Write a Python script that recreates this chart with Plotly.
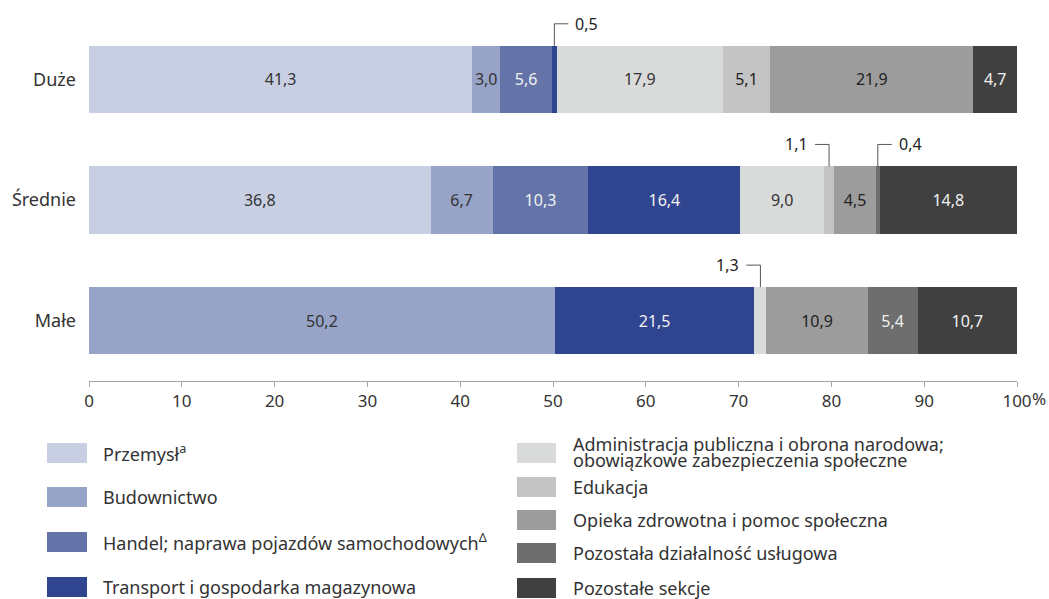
import plotly.graph_objects as go

# ---------------- data ----------------
categories = ["Duże", "Średnie", "Małe"]

series_names = [
    "Przemysł",
    "Budownictwo",
    "Handel; naprawa pojazdów samochodowych",
    "Transport i gospodarka magazynowa",
    "Administracja publiczna i obrona narodowa; obowiązkowe zabezpieczenia społeczne",
    "Edukacja",
    "Opieka zdrowotna i pomoc społeczna",
    "Pozostała działalność usługowa",
    "Pozostałe sekcje",
]
legend_labels = [
    "Przemysł<sup>a</sup>",
    "Budownictwo",
    "Handel; naprawa pojazdów samochodowych<sup>Δ</sup>",
    "Transport i gospodarka magazynowa",
    "Administracja publiczna i obrona narodowa;<br>obowiązkowe zabezpieczenia społeczne",
    "Edukacja",
    "Opieka zdrowotna i pomoc społeczna",
    "Pozostała działalność usługowa",
    "Pozostałe sekcje",
]

przemysl = [41.3, 36.8, 0.0]
budownictwo = [3.0, 6.7, 50.2]
handel = [5.6, 10.3, 0.0]
transport = [0.5, 16.4, 21.5]
administracja = [17.9, 9.0, 1.3]
edukacja = [5.1, 1.1, 0.0]
opieka = [21.9, 4.5, 10.9]
pozostala_dzialalnosc = [0.0, 0.4, 5.4]
pozostale_sekcje = [4.7, 14.8, 10.7]

values = [przemysl, budownictwo, handel, transport, administracja,
          edukacja, opieka, pozostala_dzialalnosc, pozostale_sekcje]

x_tickvals = [0, 10, 20, 30, 40, 50, 60, 70, 80, 90, 100]
x_ticktext = ["0", "10", "20", "30", "40", "50", "60", "70", "80", "90", "100"]

# small segments labelled with callouts: (category index, series index, side)
callouts = [(0, 3, "right"), (1, 5, "left"), (1, 7, "right"), (2, 4, "left")]

# ---------------- styles ----------------
colors = ["#c9cfe2", "#97a4c8", "#6474a8", "#2f4590", "#d9dada",
          "#c4c4c4", "#9c9c9c", "#6e6e6e", "#404040"]
text_colors = ["#333333", "#333333", "#f2f2f2", "#f2f2f2", "#333333",
               "#222222", "#222222", "#f2f2f2", "#f2f2f2"]
FONT = "Noto Sans, Open Sans, sans-serif"
TXT = "#333333"

W, H = 1049, 599
ML, MR, MT, MB = 89, 32, 19, 218
PW, PH = W - ML - MR, H - MT - MB
BARGAP = 0.444
PX_PER_X = PW / 100.0
PX_PER_CAT = PH / 3.0


def fmt(v):
    return f"{v:.1f}".replace(".", ",")


def px_x(xp):
    return (xp - ML) / PW


def px_y(yp):
    return (H - MB - yp) / PH


fig = go.Figure()
callout_set = {(c, s) for c, s, _ in callouts}
for s, (name, vals) in enumerate(zip(series_names, values)):
    texts = []
    for c, v in enumerate(vals):
        if v <= 0 or (c, s) in callout_set:
            texts.append("")
        else:
            texts.append(fmt(v))
    fig.add_trace(go.Bar(
        y=categories, x=vals, name=name, orientation="h",
        marker=dict(color=colors[s], line=dict(width=0)),
        text=texts, textposition="inside", insidetextanchor="middle",
        textangle=0,
        textfont=dict(color=text_colors[s], size=16, family=FONT),
        showlegend=False,
        hovertemplate="%{y}: %{x}<extra>" + name + "</extra>",
    ))

shapes = []
annotations = []

# callouts
half = (1 - BARGAP) / 2
rise = 22 / PX_PER_CAT
hlen = 14 / PX_PER_X
for c, s, side in callouts:
    start = sum(values[k][c] for k in range(s))
    xc = start + values[s][c] / 2
    ytop = c - half - rise
    shapes.append(dict(type="line", xref="x", yref="y", x0=xc, x1=xc,
                       y0=c - half, y1=ytop, line=dict(color="#555555", width=1)))
    x2 = xc + hlen if side == "right" else xc - hlen
    shapes.append(dict(type="line", xref="x", yref="y", x0=xc, x1=x2,
                       y0=ytop, y1=ytop, line=dict(color="#555555", width=1)))
    annotations.append(dict(
        x=x2, y=ytop, xref="x", yref="y", text=fmt(values[s][c]),
        showarrow=False, xanchor="left" if side == "right" else "right",
        yanchor="middle", xshift=5 if side == "right" else -5,
        font=dict(size=16, color="#222222", family=FONT)))

# percent sign after the 100 tick
annotations.append(dict(x=100, y=0, xref="x", yref="paper", text="%",
                        showarrow=False, xanchor="left", yanchor="middle",
                        xshift=13, yshift=-17,
                        font=dict(size=17, color=TXT, family=FONT)))

# custom two-column legend
left_rows = [453, 497, 542, 587]
right_rows = [453, 487, 520, 553, 588]
entries = []
for i, yc in enumerate(left_rows):
    entries.append((i, 47, 87, 101, yc))
for j, yc in enumerate(right_rows):
    entries.append((4 + j, 517, 556, 571, yc))
for s, x0p, x1p, xt, yc in entries:
    shapes.append(dict(type="rect", xref="paper", yref="paper",
                       x0=px_x(x0p), x1=px_x(x1p),
                       y0=px_y(yc + 10), y1=px_y(yc - 10),
                       fillcolor=colors[s], line=dict(width=0)))
    lines = legend_labels[s].split("<br>")
    offsets = [0] if len(lines) == 1 else [-9, 7]
    for ln, off in zip(lines, offsets):
        annotations.append(dict(
            x=px_x(xt), y=px_y(yc + off), xref="paper", yref="paper",
            text=ln, showarrow=False, xanchor="left", yanchor="middle",
            font=dict(size=18, color=TXT, family=FONT)))

fig.update_layout(
    barmode="stack",
    bargap=BARGAP,
    width=W, height=H,
    margin=dict(l=ML, r=MR, t=MT, b=MB, pad=0, autoexpand=False),
    paper_bgcolor="white",
    plot_bgcolor="white",
    font=dict(family=FONT, color=TXT),
    uniformtext=dict(minsize=16, mode="show"),
    shapes=shapes,
    annotations=annotations,
    xaxis=dict(range=[0, 100], tickvals=x_tickvals, ticktext=x_ticktext,
               showgrid=False, zeroline=False, showline=True,
               linecolor="#a6a6a6", linewidth=1, ticks="outside",
               ticklen=5, tickcolor="#a6a6a6", automargin=False,
               tickfont=dict(size=17, color=TXT, family=FONT),
               fixedrange=True),
    yaxis=dict(categoryorder="array", categoryarray=categories,
               range=[2.5, -0.5], showgrid=False, zeroline=False,
               showline=False, ticks="", ticklabelstandoff=12,
               automargin=False,
               tickfont=dict(size=18, color=TXT, family=FONT),
               fixedrange=True),
)

fig.write_html("out.html", config={"displayModeBar": False},
               post_script="document.body.style.margin='0';")
